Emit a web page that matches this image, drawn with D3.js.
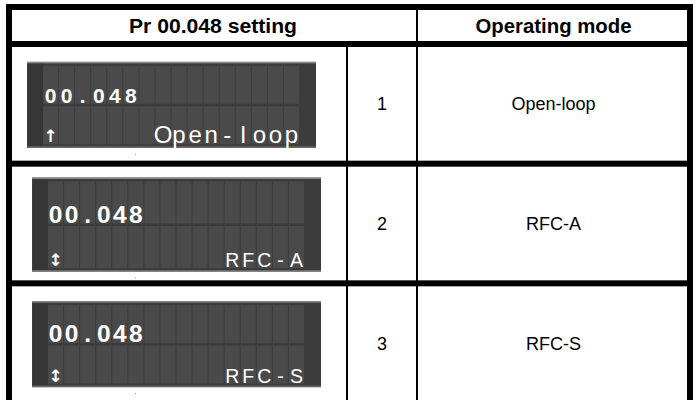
<!DOCTYPE html>
<html><head><meta charset="utf-8">
<script src="https://cdn.jsdelivr.net/npm/d3@7"></script>
<style>body{margin:0;background:#fff}svg{display:block}</style></head>
<body>
<script>
// ---- data ----
const headers = ["Pr 00.048 setting", "Operating mode"];
const displayParam = ["00.048", "00.048", "00.048"];
const displayArrow = ["\u2191", "\u2195", "\u2195"];
const displayMode = ["Open-loop", "RFC-A", "RFC-S"];
const settingValues = ["1", "2", "3"];
const modes = ["Open-loop", "RFC-A", "RFC-S"];

// ---- layout ----
const W = 696, H = 402;
const svg = d3.select("body").append("svg").attr("width", W).attr("height", H);
const colLines = [9, 347, 417, 690];
const y = d3.scaleBand().domain(d3.range(modes.length)).range([44, 403]);

// LCD displays
const nCells = 16;
modes.forEach((m, i) => {
  const cy = y(i) + y.bandwidth() / 2 + 1;
  const bx = i === 0 ? 27 : 32, bw = 289, bh = i === 1 ? 94 : 86;
  const by = cy - bh / 2;
  const g = svg.append("g").attr("transform", `translate(${bx},${by})`);
  g.append("rect").attr("width", bw).attr("height", bh).attr("fill", "#3c3c3c");
  g.append("rect").attr("width", bw).attr("height", 1.5).attr("fill", "#8a8a8a");
  g.append("rect").attr("y", bh - 1.5).attr("width", bw).attr("height", 1.5).attr("fill", "#6a6a6a");
  g.append("rect").attr("x", 1).attr("y", 2).attr("width", 15).attr("height", bh - 4).attr("fill", "#363636");
  const cx = d3.scaleBand().domain(d3.range(nCells)).range([16, 16 + nCells * 16]).paddingInner(0.06);
  const rowTop = [4, bh / 2 + 1.5], rowH = bh / 2 - 5;
  rowTop.forEach(rt => {
    g.selectAll(null).data(d3.range(nCells)).join("rect")
      .attr("x", d => cx(d)).attr("y", rt).attr("width", cx.bandwidth()).attr("height", rowH)
      .attr("fill", "#4a4a4a");
  });
  // parameter digits
  g.selectAll(null).data(displayParam[i].split("")).join("text")
    .attr("x", (d, k) => cx(k) + cx.bandwidth() / 2)
    .attr("y", rowTop[0] + rowH - 1)
    .attr("text-anchor", "middle")
    .attr("font-family", "Liberation Sans, Arial, sans-serif")
    .attr("font-weight", "bold")
    .attr("font-size", i === 0 ? 21 : 24.5)
    .attr("fill", "#fff").text(d => d);
  // arrow
  g.append("text").attr("x", cx(0) + cx.bandwidth() / 2).attr("y", rowTop[1] + rowH - 2)
    .attr("text-anchor", "middle").attr("font-family", "DejaVu Sans, sans-serif")
    .attr("font-weight", "bold").attr("font-size", 17).attr("fill", "#fff").text(displayArrow[i]);
  // mode text, right aligned to last cell
  const chars = displayMode[i].split("");
  const start = nCells - chars.length;
  g.selectAll(null).data(chars).join("text")
    .attr("x", (d, k) => cx(start + k) + cx.bandwidth() / 2)
    .attr("y", rowTop[1] + rowH - 1)
    .attr("text-anchor", "middle")
    .attr("font-family", "Liberation Sans, Arial, sans-serif")
    .attr("font-size", i === 0 ? 24 : 19.5)
    .attr("fill", "#fff").text(d => d);
  // small dot under display
  svg.append("rect").attr("x", 135).attr("y", by + bh + 6).attr("width", 1).attr("height", 1).attr("fill", "#999");
});

// text cells
const hdrWidths = [168, 156];
svg.selectAll(".hdr").data(headers).join("text").attr("class", "hdr")
  .attr("x", (d, k) => (k === 0 ? (colLines[0] + colLines[2]) / 2 : (colLines[2] + colLines[3]) / 2) - hdrWidths[k] / 2)
  .attr("y", 32.5)
  .attr("textLength", (d, k) => hdrWidths[k]).attr("lengthAdjust", "spacingAndGlyphs")
  .attr("font-family", "Liberation Sans, Arial, sans-serif").attr("font-weight", "bold")
  .attr("font-size", 19.5).attr("fill", "#000").text(d => d);

svg.selectAll(".num").data(settingValues).join("text").attr("class", "num")
  .attr("x", (colLines[1] + colLines[2]) / 2)
  .attr("y", (d, k) => y(k) + y.bandwidth() / 2 + 6.5).attr("text-anchor", "middle")
  .attr("font-family", "Liberation Sans, Arial, sans-serif")
  .attr("font-size", 18).attr("fill", "#000").text(d => d);

svg.selectAll(".mode").data(modes).join("text").attr("class", "mode")
  .attr("x", (colLines[2] + colLines[3]) / 2)
  .attr("y", (d, k) => y(k) + y.bandwidth() / 2 + 6.5).attr("text-anchor", "middle")
  .attr("font-family", "Liberation Sans, Arial, sans-serif")
  .attr("font-size", 18).attr("fill", "#000").text(d => d);

// grid lines
const thick = 6;
svg.append("rect").attr("x", 6).attr("y", 4).attr("width", 687).attr("height", thick);
svg.append("rect").attr("x", 6).attr("y", 4).attr("width", thick).attr("height", 396);
svg.append("rect").attr("x", 687).attr("y", 4).attr("width", thick).attr("height", 396);
svg.selectAll(".hline").data(d3.range(modes.length)).join("rect").attr("class", "hline")
  .attr("x", 6).attr("y", k => y(k) - thick / 2).attr("width", 684).attr("height", thick);
svg.append("rect").attr("x", colLines[1] - 1).attr("y", y(0)).attr("width", 2).attr("height", 356);
svg.append("rect").attr("x", colLines[2] - 1).attr("y", 7).attr("width", 2).attr("height", 393);
</script>
</body></html>
